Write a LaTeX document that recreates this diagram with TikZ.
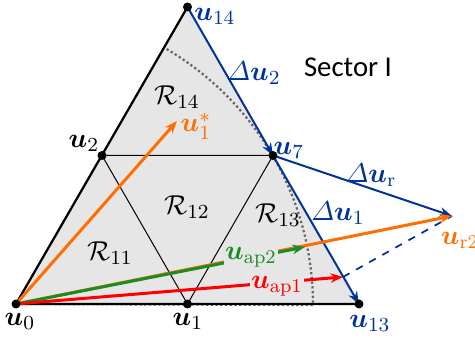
\documentclass[tikz,border=0pt]{standalone}
\usepackage{amsmath}
\usepackage{amssymb}
\usepackage{bm}
\usepackage{fontspec}
\newfontfamily\sectorfont{Carlito}
\usetikzlibrary{arrows.meta}
\usepackage{xcolor}
\definecolor{ublue}{RGB}{0,51,153}
\definecolor{uorange}{RGB}{255,110,0}
\definecolor{ugreen}{RGB}{25,140,35}
\definecolor{ured}{RGB}{255,0,0}
\definecolor{secgray}{RGB}{230,230,230}

\begin{document}
\begin{tikzpicture}[x=0.4pt, y=-0.4pt, >={Stealth[length=5pt,width=3.8pt]},
    font=\fontsize{11}{13}\selectfont]
    \useasboundingbox (0,0) rectangle (475,338);
    % corner and mid points of the sector
    \coordinate (u0) at (16,304);
    \coordinate (u1) at (187.5,304);
    \coordinate (u13) at (359,304);
    \coordinate (u14) at (187.5,7);
    \coordinate (u2) at (102,155.5);
    \coordinate (u7) at (273,155.5);
    \coordinate (ur2) at (452,216);
    \coordinate (tstar) at (177,121);
    \coordinate (tap2) at (305,247);
    \coordinate (tap1) at (343,277);
    \fill[secgray] (u0) -- (u13) -- (u14) -- cycle;
    \draw[densely dotted, black!60, line width=0.9pt] (u0) -- (313,305)
        arc[x radius=297, y radius=297, start angle=0, end angle=-60];
    \draw[line width=0.4pt] (u2) -- (u7) -- (u1) -- cycle;
    \draw[line width=0.9pt] (u14) -- (u0) -- (u13);
    \draw[->, ublue, line width=0.8pt] (u14) -- (u7);
    \draw[->, ublue, line width=0.8pt] (u7) -- (u13);
    \draw[->, ublue, line width=0.8pt] (u7) -- (ur2);
    \draw[ublue, dashed, line width=0.7pt] (tap1) -- (ur2);
    \draw[->, uorange, line width=1.2pt] (u0) -- (ur2);
    \draw[->, uorange, line width=1.2pt] (u0) -- (tstar);
    \draw[->, ugreen, line width=1.2pt] (u0) -- (tap2);
    \draw[->, ured, line width=1.2pt] (u0) -- (tap1);
    \foreach \p in {u0,u1,u13,u14,u2,u7}
        \fill (\p) circle[radius=1.8pt];
    % labels
    \node[ugreen, fill=secgray, inner sep=0.5pt] (lap2) at (251,257) {$\bm{u}_{\mathrm{ap2}}$};
    \node[ured, fill=secgray, inner sep=0.5pt] (lap1) at (277,286) {$\bm{u}_{\mathrm{ap1}}$};
    \node (lu0) at (20,321) {$\bm{u}_0$};
    \node (lu1) at (188,321) {$\bm{u}_1$};
    \node[ublue] (lu13) at (370,323) {$\bm{u}_{13}$};
    \node[ublue] (lu14) at (215,16) {$\bm{u}_{14}$};
    \node (lu2) at (84,143) {$\bm{u}_2$};
    \node[ublue] (lu7) at (289,150) {$\bm{u}_7$};
    \node[uorange] (lstar) at (196,126) {$\bm{u}_1^{*}$};
    \node[uorange] (lur2) at (460,240) {$\bm{u}_{\mathrm{r2}}$};
    \node[ublue] (ldu2) at (254,73) {$\varDelta\bm{u}_2$};
    \node[ublue] (ldu1) at (338,213) {$\varDelta\bm{u}_1$};
    \node[ublue] (ldur) at (371,175) {$\varDelta\bm{u}_{\mathrm{r}}$};
    \node (r14) at (177,97) {$\mathcal{R}_{14}$};
    \node (r12) at (187,207) {$\mathcal{R}_{12}$};
    \node (r13) at (278,215) {$\mathcal{R}_{13}$};
    \node (r11) at (110,253) {$\mathcal{R}_{11}$};
    \node (sec) at (348,67) {\sectorfont\fontsize{11.5}{13}\selectfont Sector I};
\end{tikzpicture}
\end{document}
